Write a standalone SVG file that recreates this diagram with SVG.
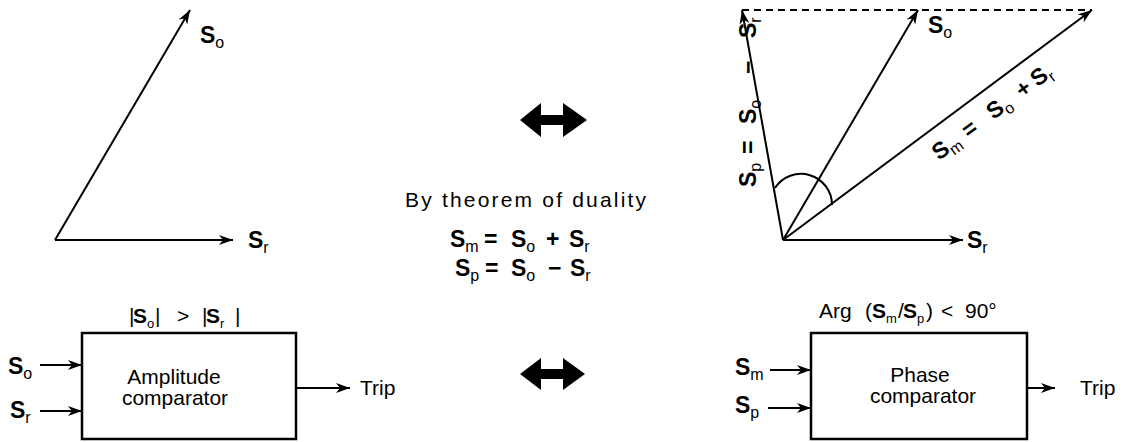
<svg xmlns="http://www.w3.org/2000/svg" width="1146" height="442" viewBox="0 0 1146 442">
<style>
text{font-family:"Liberation Sans",Arial,sans-serif;fill:#000}
.v{font-weight:bold;font-size:23px}
.s{font-size:16px;font-weight:normal}
.ss{font-size:13px;font-weight:normal}
.t{font-size:21px}
.ln{stroke:#000;stroke-width:2;fill:none}
.box{stroke:#000;stroke-width:2.5;fill:#fff}
</style>
<defs>
<marker id="ah" viewBox="0 0 14 10" refX="14" refY="5" markerWidth="14" markerHeight="10" markerUnits="userSpaceOnUse" orient="auto">
<path d="M0,0 L14,5 L0,10 L4,5 z" fill="#000"/>
</marker>
</defs>
<g id="connectors">
<line class="ln" x1="55" y1="240" x2="190" y2="10" marker-end="url(#ah)"/>
<line class="ln" x1="55" y1="240" x2="233" y2="240" marker-end="url(#ah)"/>
<line class="ln" x1="742" y1="10" x2="1092" y2="10" stroke-dasharray="7,5"/>
<line class="ln" x1="783" y1="240" x2="742" y2="10" marker-end="url(#ah)"/>
<line class="ln" x1="783" y1="240" x2="918" y2="10" marker-end="url(#ah)"/>
<line class="ln" x1="783" y1="240" x2="1092" y2="10" marker-end="url(#ah)"/>
<line class="ln" x1="783" y1="240" x2="963" y2="240" marker-end="url(#ah)"/>
<path class="ln" d="M775,188 A31,31 0 0 1 832,205"/>
<line class="ln" x1="40" y1="365" x2="82" y2="365" marker-end="url(#ah)"/>
<line class="ln" x1="40" y1="411" x2="82" y2="411" marker-end="url(#ah)"/>
<line class="ln" x1="296" y1="388" x2="350" y2="388" marker-end="url(#ah)"/>
<line class="ln" x1="770" y1="370" x2="811" y2="370" marker-end="url(#ah)"/>
<line class="ln" x1="768" y1="408" x2="811" y2="408" marker-end="url(#ah)"/>
<line class="ln" x1="1027" y1="388" x2="1055" y2="388" marker-end="url(#ah)"/>
<polygon points="520,120 541,103 541,115 563,115 563,103 587,120 563,137 563,125 541,125 541,137" fill="#000"/>
<polygon points="520,374 541,358 541,369 563,369 563,358 585,374 563,390 563,379 541,379 541,390" fill="#000"/>
</g>
<g id="phasor-left">
<text x="200" y="43" class="v">S<tspan class="s" dy="5">o</tspan></text>
<text x="248" y="248" class="v">S<tspan class="s" dy="5">r</tspan></text>
</g>
<g id="phasor-right">
<text x="928" y="33" class="v">S<tspan class="s" dy="5">o</tspan></text>
<text x="967" y="248" class="v">S<tspan class="s" dy="5">r</tspan></text>
<text class="v" transform="translate(756,187) rotate(-90)"><tspan x="0">S</tspan><tspan class="s" dy="5">p</tspan><tspan x="33" dy="-5">=</tspan><tspan x="63">S</tspan><tspan class="s" dy="5">o</tspan><tspan x="113" dy="-5">−</tspan><tspan x="149">S</tspan><tspan class="s" dy="5">r</tspan></text>
<text class="v" transform="translate(939,161) rotate(-36.7)"><tspan x="0">S</tspan><tspan class="s" dy="5">m</tspan><tspan x="37" dy="-5">=</tspan><tspan x="68">S</tspan><tspan class="s" dy="5">o</tspan><tspan x="104" dy="-5">+</tspan><tspan x="123">S</tspan><tspan class="s" dy="5">r</tspan></text>
</g>
<g id="duality">
<text x="405" y="207" class="t" font-size="24" textLength="241" lengthAdjust="spacing">By theorem of duality</text>
<text y="247" class="v"><tspan x="450">S</tspan><tspan class="s" dy="5">m</tspan><tspan x="484" dy="-5">=</tspan><tspan x="511">S</tspan><tspan class="s" dy="5">o</tspan><tspan x="546" dy="-5">+</tspan><tspan x="569">S</tspan><tspan class="s" dy="5">r</tspan></text>
<text y="276" class="v"><tspan x="455">S</tspan><tspan class="s" dy="5">p</tspan><tspan x="485" dy="-5">=</tspan><tspan x="511">S</tspan><tspan class="s" dy="5">o</tspan><tspan x="548" dy="-5">−</tspan><tspan x="570">S</tspan><tspan class="s" dy="5">r</tspan></text>
</g>
<g id="amplitude-comparator">
<rect class="box" x="82" y="333" width="214" height="106"/>
<text y="323" class="t"><tspan x="129">|</tspan><tspan x="133" font-weight="bold">S</tspan><tspan class="ss" dy="5">o</tspan><tspan x="155" dy="-5">|</tspan><tspan x="177">&gt;</tspan><tspan x="202">|</tspan><tspan x="206" font-weight="bold">S</tspan><tspan class="ss" dy="5">r</tspan><tspan x="235" dy="-5">|</tspan></text>
<text x="174" y="384" class="t" text-anchor="middle">Amplitude</text>
<text x="175" y="405" class="t" font-size="23" text-anchor="middle">comparator</text>
<text x="8" y="374" class="v">S<tspan class="s" dy="5">o</tspan></text>
<text x="10" y="418" class="v">S<tspan class="s" dy="5">r</tspan></text>
<text x="360" y="395" class="t" font-size="22">Trip</text>
</g>
<g id="phase-comparator">
<rect class="box" x="811" y="333" width="216" height="106"/>
<text y="318" class="t" font-size="22"><tspan x="819">Arg</tspan><tspan x="865">(</tspan><tspan x="872" font-weight="bold" font-size="21">S</tspan><tspan class="ss" dy="5">m</tspan><tspan x="898" dy="-5">/</tspan><tspan x="903" font-weight="bold" font-size="21">S</tspan><tspan class="ss" dy="5">p</tspan><tspan x="926" dy="-5">)</tspan><tspan x="941">&lt;</tspan><tspan x="965">90°</tspan></text>
<text x="920" y="382" class="t" text-anchor="middle">Phase</text>
<text x="923" y="403" class="t" text-anchor="middle">comparator</text>
<text x="735" y="375" class="v">S<tspan class="s" dy="5">m</tspan></text>
<text x="735" y="413" class="v">S<tspan class="s" dy="5">p</tspan></text>
<text x="1080" y="395" class="t" font-size="24">Trip</text>
</g>
</svg>
